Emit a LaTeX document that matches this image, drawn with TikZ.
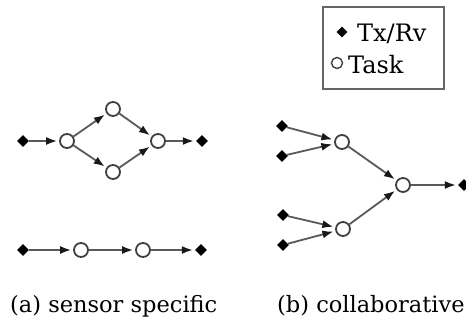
\documentclass[tikz,border=0pt]{standalone}
\usepackage{fontspec}
\setmainfont{DejaVu Serif}
\usetikzlibrary{arrows.meta,shapes.geometric}
\begin{document}
\begin{tikzpicture}[x=1pt,y=-1pt,
  txrv/.style={diamond,fill=black,inner sep=0pt,minimum size=12pt},
  task/.style={circle,draw=black!75,fill=white,line width=1.8pt,inner sep=0pt,minimum size=14pt},
  flow/.style={draw=black!65,line width=1.8pt,-{Latex[length=11pt,width=8pt,color=black!90]},shorten >=2pt},
  caplbl/.style={font=\fontsize{22.5}{27}\selectfont,inner sep=0pt,anchor=base west},
  leglbl/.style={font=\fontsize{24}{28}\selectfont,inner sep=0pt,anchor=base west}]
\useasboundingbox (0,0) rectangle (466,324);

% (a) sensor specific: split-and-merge path
\node[txrv] (a1) at (23,141) {};
\node[task] (a2) at (67,141) {};
\node[task] (a3) at (113,109) {};
\node[task] (a4) at (113,172) {};
\node[task] (a5) at (158,141) {};
\node[txrv] (a6) at (202,141) {};
\draw[flow] (a1) -- (a2);
\draw[flow] (a2) -- (a3);
\draw[flow] (a2) -- (a4);
\draw[flow] (a3) -- (a5);
\draw[flow] (a4) -- (a5);
\draw[flow] (a5) -- (a6);

% (a) sensor specific: linear chain
\node[txrv] (c1) at (23,250) {};
\node[task] (c2) at (81,250) {};
\node[task] (c3) at (143,250) {};
\node[txrv] (c4) at (201,250) {};
\draw[flow] (c1) -- (c2);
\draw[flow] (c2) -- (c3);
\draw[flow] (c3) -- (c4);

% (b) collaborative: tree of tasks
\node[txrv] (b1) at (282,126) {};
\node[txrv] (b2) at (282,156) {};
\node[task] (b3) at (342,142) {};
\node[txrv] (b4) at (283,215) {};
\node[txrv] (b5) at (283,245) {};
\node[task] (b6) at (343,229) {};
\node[task] (b7) at (403,185) {};
\node[txrv] (b8) at (464,185) {};
\draw[flow] (b1) -- (b3);
\draw[flow] (b2) -- (b3);
\draw[flow] (b4) -- (b6);
\draw[flow] (b5) -- (b6);
\draw[flow] (b3) -- (b7);
\draw[flow] (b6) -- (b7);
\draw[flow] (b7) -- (b8);

% legend
\node[draw=black!60,line width=2pt,minimum width=121pt,minimum height=82pt,inner sep=0pt] (leg) at (383.5,48) {};
\node[txrv,minimum size=11pt] (ld) at (342,32) {};
\node[leglbl] (lt1) at (357,41) {Tx/Rv};
\node[task,minimum size=11pt,line width=1.4pt] (lc) at (337,63) {};
\node[leglbl] (lt2) at (348,73) {Task};

% captions
\node[caplbl] (capa) at (10,312) {(a) sensor specific};
\node[caplbl] (capb) at (277,312) {(b) collaborative};
\end{tikzpicture}
\end{document}
